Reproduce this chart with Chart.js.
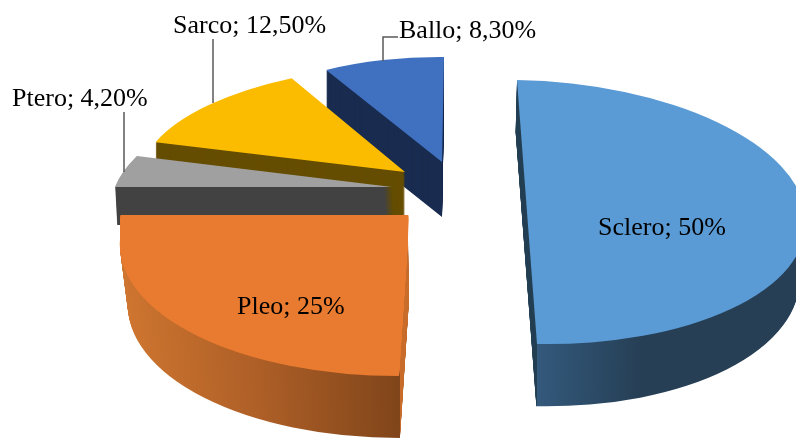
<!DOCTYPE html>
<html>
<head>
<meta charset="utf-8">
<title>Pie</title>
<script src="https://cdn.jsdelivr.net/npm/chart.js@4/dist/chart.umd.js"></script>
<style>
  html, body { margin: 0; padding: 0; background: #fff; overflow: hidden; }
  canvas { display: block; }
</style>
</head>
<body>
<canvas id="c" width="796" height="440"></canvas>
<script>
const categories = ['Sclero', 'Pleo', 'Ptero', 'Sarco', 'Ballo'];
const values = [50, 25, 4.2, 12.5, 8.3];
const valueLabels = ['50%', '25%', '4,20%', '12,50%', '8,30%'];

const topColors = ['#5B9BD5', '#E97B30', '#A0A0A0', '#FBBC00', '#4070C0'];

// the exploded 3D look: each slice gets its own projection of the flat pie.
// x,y = slice centre, u/v = where the pie's x/y radius lands on screen,
// sink = shift and scale of the bottom face relative to the top one,
// lift = extra top-colour smear upwards (fakes the perspective flattening)
const views = [
  { x: 527, y: 212, u: [279, 5], v: [10, 132], sink: { dx: -1, dy: 57, su: 0.98, sv: 1.04 },
    wall: [[0, '#33597C'], [0.38, '#263F55'], [1, '#263F55']], wallSide: 1,
    strip: { color: '#264055', rect: [505, 70, 32, 340] } },
  { x: 408, y: 240, u: [288, 0], v: [-9, 136], sink: { dx: 1, dy: 60, su: 0.976, sv: 1.015 },
    lift: { dx: 0.4, dy: -25 },
    wall: [[0, '#CF7630'], [0.5, '#AE5F27'], [1, '#80451A']], wallSide: -1,
    strip: { color: '#C96F2E', rect: [400, 215, 20, 225] } },
  { x: 392, y: 187, u: [277, 0], v: [-47, 119], sink: { dx: 2, dy: 38, su: 1, sv: 1 }, wall: '#424242' },
  { x: 405, y: 172, u: [264, 2], v: [-21, 107], sink: { dx: 0, dy: 50, su: 1, sv: 1 }, wall: '#654D00' },
  { x: 442, y: 162, u: [236, 2], v: [-2, 105], sink: { dx: 0, dy: 55, su: 1, sv: 1 }, wall: '#192C50' },
];

const labelSpots = [[598, 235], [237, 314], [12, 106], [173, 33], [399, 38]];
const leaders = [null, null,
  [[124, 112], [124, 172]],
  [[213, 39], [213, 103]],
  [[398, 37], [383, 37], [383, 61]],
];

function setView(ctx, arc, view, t, shift) {
  const R = arc.outerRadius;
  const s = view.sink;
  const su = (1 + (s.su - 1) * t) / R, sv = (1 + (s.sv - 1) * t) / R;
  ctx.setTransform(view.u[0] * su, view.u[1] * su, view.v[0] * sv, view.v[1] * sv,
    view.x + s.dx * t + (shift ? shift.dx : 0), view.y + s.dy * t + (shift ? shift.dy : 0));
  ctx.translate(-arc.x, -arc.y);
}

function drawStack(ctx, arc, view, fill, clipRect) {
  const top = arc.options;
  const n = Math.ceil(view.sink.dy);
  ctx.save();
  if (clipRect) {
    ctx.beginPath();
    ctx.rect(clipRect[0], clipRect[1], clipRect[2], clipRect[3]);
    ctx.clip();
  }
  arc.options = { ...top, backgroundColor: fill };
  for (let i = n; i > 0; i--) {
    setView(ctx, arc, view, i / n);
    arc.draw(ctx);
  }
  arc.options = top;
  ctx.restore();
}

function drawTop(ctx, arc, view) {
  ctx.save();
  const lift = view.lift;
  if (lift) {
    const n = Math.ceil(Math.abs(lift.dy));
    for (let i = n; i > 0; i--) {
      setView(ctx, arc, view, 0, { dx: lift.dx * i / n, dy: lift.dy * i / n });
      arc.draw(ctx);
    }
  }
  setView(ctx, arc, view, 0);
  arc.draw(ctx);
  ctx.restore();
}

const pie3d = {
  id: 'pie3d',
  beforeDatasetDraw(chart, args) {
    const ctx = chart.ctx;
    const arcs = args.meta.data;
    // back to front
    for (let i = arcs.length - 1; i >= 0; i--) {
      const arc = arcs[i], view = views[i];
      let fill = view.wall;
      if (view.wallSide) {
        const x0 = view.wallSide < 0 ? arc.x - arc.outerRadius : arc.x;
        const g = ctx.createLinearGradient(x0, 0, x0 + arc.outerRadius, 0);
        view.wall.forEach(st => g.addColorStop(st[0], st[1]));
        fill = g;
      }
      drawStack(ctx, arc, view, fill);
      if (view.strip) drawStack(ctx, arc, view, view.strip.color, view.strip.rect);
      drawTop(ctx, arc, view);
    }
    return false;
  },
  afterDraw(chart) {
    const ctx = chart.ctx;
    ctx.save();
    ctx.strokeStyle = '#595959';
    ctx.lineWidth = 1.5;
    leaders.forEach(pts => {
      if (!pts) return;
      ctx.beginPath();
      pts.forEach((p, k) => k ? ctx.lineTo(p[0], p[1]) : ctx.moveTo(p[0], p[1]));
      ctx.stroke();
    });
    ctx.fillStyle = '#000';
    ctx.font = '26px "Liberation Serif", serif';
    ctx.textAlign = 'left';
    ctx.textBaseline = 'alphabetic';
    categories.forEach((name, i) => {
      ctx.fillText(name + '; ' + valueLabels[i], labelSpots[i][0], labelSpots[i][1]);
    });
    ctx.restore();
  },
};

new Chart(document.getElementById('c'), {
  type: 'pie',
  data: {
    labels: categories,
    datasets: [{ data: values, backgroundColor: topColors, borderWidth: 0 }],
  },
  options: {
    responsive: false,
    animation: false,
    plugins: { legend: { display: false }, tooltip: { enabled: false } },
  },
  plugins: [pie3d],
});
</script>
</body>
</html>
